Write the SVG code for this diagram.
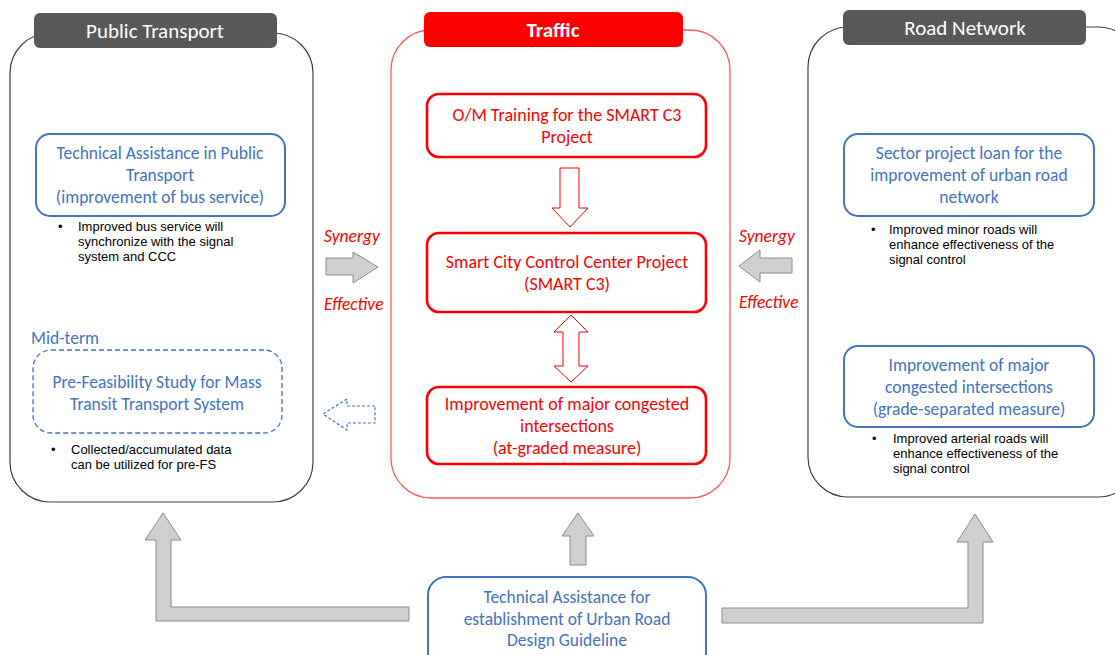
<svg xmlns="http://www.w3.org/2000/svg" width="1115" height="655" viewBox="0 0 1115 655">
  <style>
    text { font-family: Carlito, Lato, "Liberation Sans", sans-serif; }
    .panel { fill: #ffffff; stroke: #404040; stroke-width: 1.2; }
    .panel-red { fill: #ffffff; stroke: #ff5a5a; stroke-width: 1.3; }
    .hdr { fill: #595959; }
    .hdr-red { fill: #ff0000; }
    .hdr-t { fill: #ffffff; font-size: 21px; text-anchor: middle; }
    .blue-box { fill: #ffffff; stroke: #4472c4; stroke-width: 2; }
    .blue-dash { fill: #ffffff; stroke: #4472c4; stroke-width: 1.3; stroke-dasharray: 5 3; }
    .red-box { fill: #ffffff; stroke: #ff0000; stroke-width: 2.6; }
    .bt { fill: #4472c4; font-size: 17.5px; text-anchor: middle; }
    .bt-left { fill: #4472c4; font-size: 17.5px; }
    .rt { fill: #ff0000; font-size: 18px; text-anchor: middle; }
    .note { fill: #000000; font-size: 13px; font-family: "Liberation Sans", Arial, sans-serif; }
    .lbl { fill: #ff0000; font-size: 17.5px; font-style: italic; }
    .garrow { fill: #d0cece; stroke: #8c8c8c; stroke-width: 1; }
    .rarrow { fill: #ffffff; stroke: #ff0000; stroke-width: 1; }
    .barrow { fill: #ffffff; stroke: #4472c4; stroke-width: 1.2; stroke-dasharray: 3 2; }
  </style>

  <!-- Public Transport panel -->
  <g id="panel-public-transport">
    <rect class="panel" x="10" y="33" width="303" height="469" rx="40"/>
    <rect class="hdr" x="34" y="13" width="243" height="35" rx="6"/>
    <text class="hdr-t" x="155" y="38">Public Transport</text>
  </g>

  <!-- Traffic panel -->
  <g id="panel-traffic">
    <rect class="panel-red" x="391" y="30" width="339" height="468" rx="40"/>
    <rect class="hdr-red" x="424" y="12" width="259" height="35" rx="6"/>
    <text class="hdr-t" x="553" y="37" font-weight="bold" font-size="20">Traffic</text>
  </g>

  <!-- Road Network panel -->
  <g id="panel-road-network">
    <rect class="panel" x="808" y="27" width="330" height="470" rx="40"/>
    <rect class="hdr" x="843" y="10" width="243" height="35" rx="6"/>
    <text class="hdr-t" x="965" y="35">Road Network</text>
  </g>

  <!-- Public transport items -->
  <g id="ta-public-transport">
    <rect class="blue-box" x="36" y="134" width="249" height="82" rx="14"/>
    <text class="bt" x="160" y="159">Technical Assistance in Public</text>
    <text class="bt" x="160" y="181">Transport</text>
    <text class="bt" x="160" y="203">(improvement of bus service)</text>
    <text class="note" x="58" y="231">•</text>
    <text class="note" x="78" y="231">Improved bus service will</text>
    <text class="note" x="78" y="246">synchronize with the signal</text>
    <text class="note" x="78" y="261">system and CCC</text>
  </g>

  <g id="pre-fs-mass-transit">
    <text class="bt-left" x="31" y="344">Mid-term</text>
    <rect class="blue-dash" x="33" y="350" width="249" height="83" rx="18"/>
    <text class="bt" x="157" y="388">Pre-Feasibility Study for Mass</text>
    <text class="bt" x="157" y="410">Transit Transport System</text>
    <text class="note" x="51" y="454">•</text>
    <text class="note" x="71" y="454">Collected/accumulated data</text>
    <text class="note" x="71" y="469">can be utilized for pre-FS</text>
  </g>

  <!-- Traffic items -->
  <g id="om-training">
    <rect class="red-box" x="427" y="94" width="279" height="63" rx="12"/>
    <text class="rt" x="567" y="121">O/M Training for the SMART C3</text>
    <text class="rt" x="567" y="143">Project</text>
  </g>

  <g id="smart-c3">
    <rect class="red-box" x="427" y="233" width="279" height="79" rx="12"/>
    <text class="rt" x="567" y="268">Smart City Control Center Project</text>
    <text class="rt" x="567" y="290">(SMART C3)</text>
  </g>

  <g id="at-graded-intersections">
    <rect class="red-box" x="427" y="387" width="279" height="77" rx="12"/>
    <text class="rt" x="567" y="410">Improvement of major congested</text>
    <text class="rt" x="567" y="432">intersections</text>
    <text class="rt" x="567" y="454">(at-graded measure)</text>
  </g>

  <!-- Road network items -->
  <g id="sector-loan">
    <rect class="blue-box" x="844" y="134" width="250" height="82" rx="14"/>
    <text class="bt" x="969" y="159">Sector project loan for the</text>
    <text class="bt" x="969" y="181">improvement of urban road</text>
    <text class="bt" x="969" y="203">network</text>
    <text class="note" x="871" y="234">•</text>
    <text class="note" x="889" y="234">Improved minor roads will</text>
    <text class="note" x="889" y="249">enhance effectiveness of the</text>
    <text class="note" x="889" y="264">signal control</text>
  </g>

  <g id="grade-separated-intersections">
    <rect class="blue-box" x="844" y="346" width="250" height="81" rx="14"/>
    <text class="bt" x="969" y="371">Improvement of major</text>
    <text class="bt" x="969" y="393">congested intersections</text>
    <text class="bt" x="969" y="415">(grade-separated measure)</text>
    <text class="note" x="872" y="443">•</text>
    <text class="note" x="893" y="443">Improved arterial roads will</text>
    <text class="note" x="893" y="458">enhance effectiveness of the</text>
    <text class="note" x="893" y="473">signal control</text>
  </g>

  <!-- Urban road design guideline -->
  <g id="design-guideline">
    <rect class="blue-box" x="428" y="577" width="278" height="100" rx="18"/>
    <text class="bt" x="567" y="603">Technical Assistance for</text>
    <text class="bt" x="567" y="625">establishment of Urban Road</text>
    <text class="bt" x="567" y="646">Design Guideline</text>
  </g>

  <!-- Connectors -->
  <g id="connectors">
    <!-- Synergy / Effective labels -->
    <text class="lbl" x="324" y="242">Synergy</text>
    <text class="lbl" x="324" y="310">Effective</text>
    <text class="lbl" x="739" y="242">Synergy</text>
    <text class="lbl" x="739" y="308">Effective</text>

    <!-- public transport -> traffic -->
    <polygon class="garrow" points="326,258 353,258 353,252 378,267 353,283 353,275 326,275"/>
    <!-- road network -> traffic -->
    <polygon class="garrow" points="792,258 760,258 760,250 739,266 760,282 760,273 792,273"/>
    <!-- traffic -> mid-term study (dashed) -->
    <polygon class="barrow" points="375,406 347,406 347,399 323,414 347,430 347,423 375,423"/>

    <!-- hollow red arrows inside traffic panel -->
    <polygon class="rarrow" points="560,168 579,168 579,208 588,208 570,227 552,208 560,208"/>
    <polygon class="rarrow" points="571,315 588,332 579,332 579,366 588,366 571,382 554,366 563,366 563,332 554,332"/>

    <!-- guideline -> three sectors -->
    <polygon class="garrow" points="409,607 171,607 171,540 181,540 163,513 145,540 156,540 156,621 409,621"/>
    <polygon class="garrow" points="570,565 586,565 586,536 594,536 578,513 562,536 570,536"/>
    <polygon class="garrow" points="722,608 968,608 968,542 957,542 975,514 993,542 983,542 983,623 722,623"/>
  </g>
</svg>
